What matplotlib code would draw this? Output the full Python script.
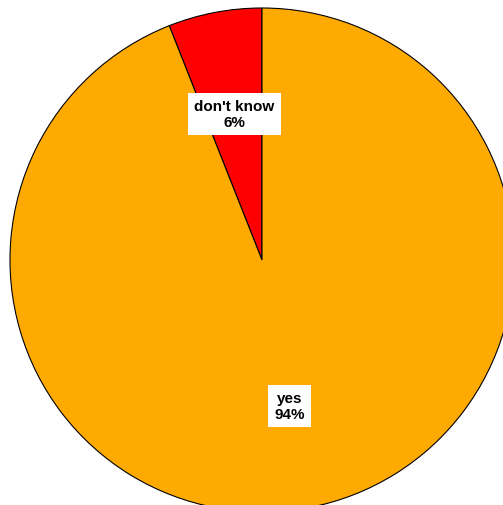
import matplotlib
matplotlib.use("Agg")
import matplotlib.pyplot as plt

labels = ["don't know", "yes"]
values = [6, 94]
colors = ["#FF0000", "#FFAA00"]

W, H, DPI = 503, 506, 100
fig = plt.figure(figsize=(W / DPI, H / DPI), dpi=DPI)
cx, cy, r = 262, 261, 252
ax = fig.add_axes([(cx - r) / W, (H - cy - r) / H, 2 * r / W, 2 * r / H])

wedges, texts = ax.pie(
    values, colors=colors, startangle=90, counterclock=True, radius=1,
    labels=[f"{l}\n{v}%" for l, v in zip(labels, values)], labeldistance=0.59,
    wedgeprops=dict(edgecolor="black", linewidth=0.8),
    textprops=dict(family="Liberation Sans", fontweight="bold", fontsize=11,
                   ha="center", va="center", linespacing=1.2),
)
for t in texts:
    t.set_horizontalalignment("center")
    t.set_multialignment("center")
    t.set_bbox(dict(facecolor="white", edgecolor="none", pad=4.5))
ax.set_aspect("equal")
ax.set_xlim(-1, 1)
ax.set_ylim(-1, 1)
ax.axis("off")

fig.savefig("out.png", dpi=DPI)
